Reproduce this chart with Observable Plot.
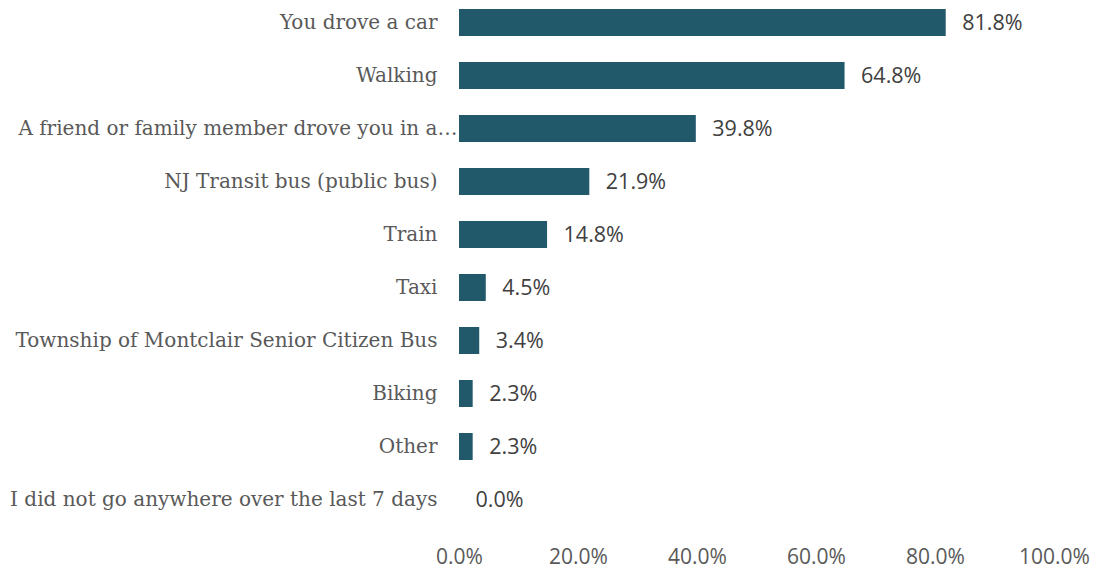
<!DOCTYPE html>
<html>
<head>
<meta charset="utf-8">
<script src="https://cdn.jsdelivr.net/npm/d3@7"></script>
<script src="https://cdn.jsdelivr.net/npm/@observablehq/plot@0.6"></script>
<style>
  html, body { margin: 0; padding: 0; background: #fff; }
</style>
</head>
<body>
<div id="chart"></div>
<script>
const categories = [
  "You drove a car",
  "Walking",
  "A friend or family member drove you in a…",
  "NJ Transit bus (public bus)",
  "Train",
  "Taxi",
  "Township of Montclair Senior Citizen Bus",
  "Biking",
  "Other",
  "I did not go anywhere over the last 7 days"
];
const values = [81.8, 64.8, 39.8, 21.9, 14.8, 4.5, 3.4, 2.3, 2.3, 0.0];
const xTicks = [0, 20, 40, 60, 80, 100];

const data = categories.map((c, i) => ({category: c, value: values[i]}));
const pct = d => d.toFixed(1) + "%";
const longLabel = categories[2];
const normalLabels = categories.filter(c => c !== longLabel);

const yAxisStyle = {tickSize: 0, fontSize: 20, fontFamily: "'DejaVu Serif', serif", fill: "#595959", label: null};

const chart = Plot.plot({
  width: 1093,
  height: 569,
  marginLeft: 459,
  marginRight: 39,
  marginTop: 9,
  marginBottom: 56,
  style: {background: "#fff", color: "#595959"},
  x: {domain: [0, 100], ticks: xTicks, tickFormat: pct, label: null},
  y: {domain: categories, paddingInner: 0.5, paddingOuter: 0, label: null},
  marks: [
    Plot.barX(data, {x: "value", y: "category", fill: "#22596A"}),
    Plot.text(data, {x: "value", y: "category", text: d => pct(d.value), textAnchor: "start", dx: 16,
      fill: "#404040", fontSize: 21.5, fontFamily: "'Open Sans', sans-serif"}),
    Plot.axisY({...yAxisStyle, ticks: normalLabels, tickPadding: 22}),
    Plot.axisY({...yAxisStyle, ticks: [longLabel], tickPadding: 2}),
    Plot.axisX({tickSize: 0, tickPadding: 36, fontSize: 21, fontFamily: "'Open Sans', sans-serif", fill: "#595959", ticks: xTicks, tickFormat: pct})
  ]
});
document.getElementById("chart").appendChild(chart);
</script>
</body>
</html>
